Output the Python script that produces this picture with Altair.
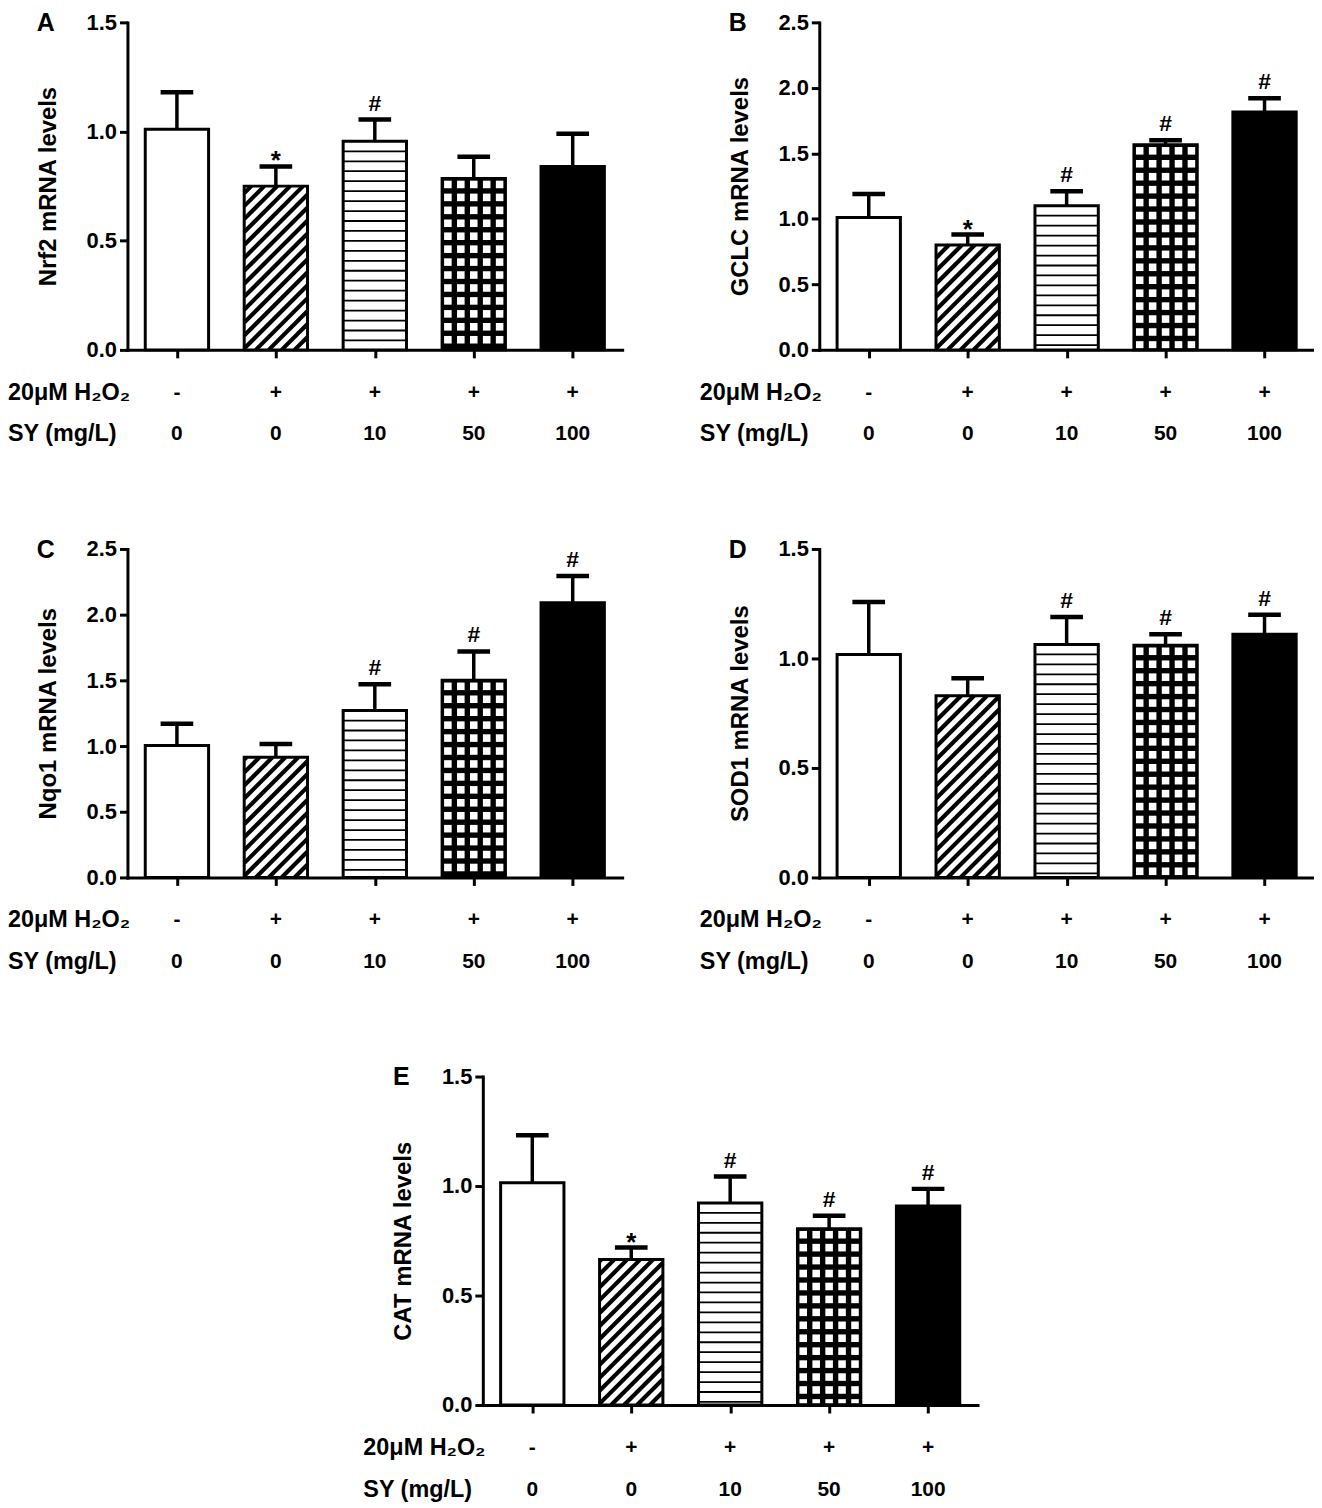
import altair as alt
import pandas as pd

# ---------------- data ----------------
positions = [1, 2, 3, 4, 5]
h2o2_row = ["-", "+", "+", "+", "+"]
sy_row = ["0", "0", "10", "50", "100"]
fills = ["open", "diagonal", "horizontal", "grid", "solid"]

nrf2_mean = [1.01, 0.75, 0.955, 0.785, 0.84]
nrf2_sd = [0.17, 0.09, 0.10, 0.10, 0.15]
nrf2_mark = ["", "*", "#", "", ""]

gclc_mean = [1.01, 0.80, 1.10, 1.565, 1.815]
gclc_sd = [0.18, 0.08, 0.11, 0.035, 0.105]
gclc_mark = ["", "*", "#", "#", "#"]

nqo1_mean = [1.005, 0.915, 1.27, 1.50, 2.09]
nqo1_sd = [0.165, 0.10, 0.20, 0.22, 0.205]
nqo1_mark = ["", "", "#", "#", "#"]

sod1_mean = [1.018, 0.83, 1.064, 1.06, 1.11]
sod1_sd = [0.24, 0.08, 0.125, 0.05, 0.09]
sod1_mark = ["", "", "#", "#", "#"]

cat_mean = [1.015, 0.665, 0.923, 0.805, 0.909]
cat_sd = [0.217, 0.054, 0.12, 0.059, 0.078]
cat_mark = ["", "*", "#", "#", "#"]

# ---------------- style ----------------
FONT = "Liberation Sans"
W = 497
HW = 0.32          # half bar width (x units)
CAPW = 0.165       # half cap width (x units)
XPX = W / 5.0      # pixels per x unit


def pattern_frames(means, ymax, plot_h):
    ypx = plot_h / ymax
    bw = 2 * HW * XPX
    hl, dl, sq = [], [], []
    for p, m, f in zip(positions, means, fills):
        hb = m * ypx
        left = p - HW
        if f == "horizontal":
            k = 1
            while hb - 10 * k > 2:
                hl.append({"x": left, "x2": p + HW, "y": (hb - 10 * k) / ypx})
                k += 1
        elif f == "diagonal":
            c = -bw
            while c < hb:
                xa = max(0.0, -c)
                xb = min(bw, hb - c)
                if xb - xa > 0.5:
                    dl.append({"x": left + xa / XPX, "x2": left + xb / XPX,
                               "y": (xa + c) / ypx, "y2": (xb + c) / ypx})
                c += 13
        elif f == "grid":
            r = 0
            while True:
                ytop = hb - 2.2 - 13 * r
                if ytop < 3.0:
                    break
                ybot = max(ytop - 7.6, 1.6)
                for k in range(5):
                    xa = 2.0 + 13 * k
                    sq.append({"x": left + xa / XPX, "x2": left + (xa + 7.6) / XPX,
                               "y": ybot / ypx, "y2": ytop / ypx})
                r += 1
    return pd.DataFrame(hl), pd.DataFrame(dl), pd.DataFrame(sq)


def make_panel(letter, ytitle, ymax, yticks, means, sds, marks, plot_h, view_h, xshift=0):
    top_off = view_h - plot_h
    xscale = alt.Scale(domain=[0.5, 5.5], range=[xshift, xshift + W], nice=False, zero=False)
    yscale = alt.Scale(domain=[0, ymax], range=[view_h, top_off], nice=False, zero=False)
    xaxis = alt.Axis(values=positions, labels=False, title=None, grid=False,
                     tickSize=8, tickWidth=3, domainWidth=3, tickColor="black",
                     domainColor="black", domainCap="square")
    yaxis = alt.Axis(values=yticks, format=".1f", title=ytitle, grid=False,
                     offset=-xshift,
                     tickSize=8, tickWidth=3, domainWidth=3, tickColor="black",
                     domainColor="black", domainCap="square",
                     labelFont=FONT, labelFontSize=22, labelFontWeight="bold",
                     labelColor="black", labelPadding=3, labelFlush=False,
                     titleFont=FONT, titleFontSize=24, titleFontWeight="bold",
                     titleColor="black", titlePadding=26)

    def X(f):
        return alt.X(f, scale=xscale, axis=xaxis)

    def Y(f):
        return alt.Y(f, scale=yscale, axis=yaxis)

    bars = pd.DataFrame({
        "pos": positions,
        "x": [p - HW for p in positions],
        "x2": [p + HW for p in positions],
        "cx": [p - CAPW for p in positions],
        "cx2": [p + CAPW for p in positions],
        "mean": means,
        "top": [m + s for m, s in zip(means, sds)],
        "base": [0.0] * 5,
        "fillc": ["black" if f in ("grid", "solid") else "white" for f in fills],
        "mark": marks,
        "h2o2": h2o2_row,
        "sy": sy_row,
    })

    fill_layer = alt.Chart(bars).mark_rect().encode(
        x=X("x:Q"), x2="x2:Q", y=Y("mean:Q"), y2="base:Q",
        color=alt.Color("fillc:N", scale=None),
    )
    hl, dl, sq = pattern_frames(means, ymax, plot_h)
    hlines = alt.Chart(hl).mark_rule(color="black", strokeWidth=1.8).encode(
        x=X("x:Q"), x2="x2:Q", y=Y("y:Q"))
    dlines = alt.Chart(dl).mark_rule(color="black", strokeWidth=4.2).encode(
        x=X("x:Q"), x2="x2:Q", y=Y("y:Q"), y2="y2:Q")
    squares = alt.Chart(sq).mark_rect(color="white").encode(
        x=X("x:Q"), x2="x2:Q", y=Y("y:Q"), y2="y2:Q")
    outline = alt.Chart(bars).mark_rect(fillOpacity=0, stroke="black", strokeWidth=3).encode(
        x=X("x:Q"), x2="x2:Q", y=Y("mean:Q"), y2="base:Q")
    stem = alt.Chart(bars).mark_rule(color="black", strokeWidth=3.5).encode(
        x=X("pos:Q"), y=Y("mean:Q"), y2="top:Q")
    cap = alt.Chart(bars).mark_rule(color="black", strokeWidth=4.5).encode(
        x=X("cx:Q"), x2="cx2:Q", y=Y("top:Q"))
    star = alt.Chart(bars).transform_filter(alt.datum.mark == "*").mark_text(
        font=FONT, fontSize=26, fontWeight="bold", baseline="alphabetic", dy=3, color="black"
    ).encode(x=X("pos:Q"), y=Y("top:Q"), text="mark:N")
    hashm = alt.Chart(bars).transform_filter(alt.datum.mark == "#").mark_text(
        font=FONT, fontSize=23, fontWeight="bold", baseline="alphabetic", dy=-9, color="black"
    ).encode(x=X("pos:Q"), y=Y("top:Q"), text="mark:N")
    row1 = alt.Chart(bars).mark_text(
        font=FONT, fontSize=21, fontWeight="bold", baseline="middle", color="black"
    ).encode(x=X("pos:Q"), y=alt.value(view_h + 43), text="h2o2:N")
    row2 = alt.Chart(bars).mark_text(
        font=FONT, fontSize=21, fontWeight="bold", baseline="middle", color="black"
    ).encode(x=X("pos:Q"), y=alt.value(view_h + 85), text="sy:N")
    heads = pd.DataFrame({"t": ["20μM H₂O₂", "SY (mg/L)"]})
    head1 = alt.Chart(heads.iloc[[0]]).mark_text(
        font=FONT, fontSize=23.5, fontWeight="bold", baseline="middle", align="left", color="black"
    ).encode(x=alt.value(xshift - 120), y=alt.value(view_h + 43), text="t:N")
    head2 = alt.Chart(heads.iloc[[1]]).mark_text(
        font=FONT, fontSize=23.5, fontWeight="bold", baseline="middle", align="left", color="black"
    ).encode(x=alt.value(xshift - 120), y=alt.value(view_h + 85), text="t:N")
    lab = alt.Chart(pd.DataFrame({"t": [letter]})).mark_text(
        font=FONT, fontSize=25, fontWeight="bold", baseline="alphabetic", align="center", color="black"
    ).encode(x=alt.value(xshift - 82), y=alt.value(top_off + 9), text="t:N")

    return alt.layer(fill_layer, hlines, dlines, squares, outline, stem, cap,
                     star, hashm, row1, row2, head1, head2, lab).properties(
        width=W, height=view_h)


A = make_panel("A", "Nrf2 mRNA levels", 1.5, [0, 0.5, 1.0, 1.5],
               nrf2_mean, nrf2_sd, nrf2_mark, 329, 329)
B = make_panel("B", "GCLC mRNA levels", 2.5, [0, 0.5, 1.0, 1.5, 2.0, 2.5],
               gclc_mean, gclc_sd, gclc_mark, 329, 329)
C = make_panel("C", "Nqo1 mRNA levels", 2.5, [0, 0.5, 1.0, 1.5, 2.0, 2.5],
               nqo1_mean, nqo1_sd, nqo1_mark, 330, 443)
D = make_panel("D", "SOD1 mRNA levels", 1.5, [0, 0.5, 1.0, 1.5],
               sod1_mean, sod1_sd, sod1_mark, 330, 443)
E = make_panel("E", "CAT mRNA levels", 1.5, [0, 0.5, 1.0, 1.5],
               cat_mean, cat_sd, cat_mark, 330, 443, xshift=-338)

spacer = alt.Chart(pd.DataFrame({"v": [0]})).mark_point(opacity=0).encode(
    x=alt.X("v:Q", axis=None), y=alt.Y("v:Q", axis=None)
).properties(width=10, height=10)

chart = alt.concat(A, B, C, D, spacer, E, columns=2,
                   spacing={"row": 87, "column": 198},
                   bounds="flush", align="each").properties(
    padding={"left": 0, "top": 0, "right": 0, "bottom": 0},
    background="white"
).configure_view(stroke="transparent", strokeWidth=0)

chart.save("out.html", embed_options={"renderer": "svg", "actions": False})
